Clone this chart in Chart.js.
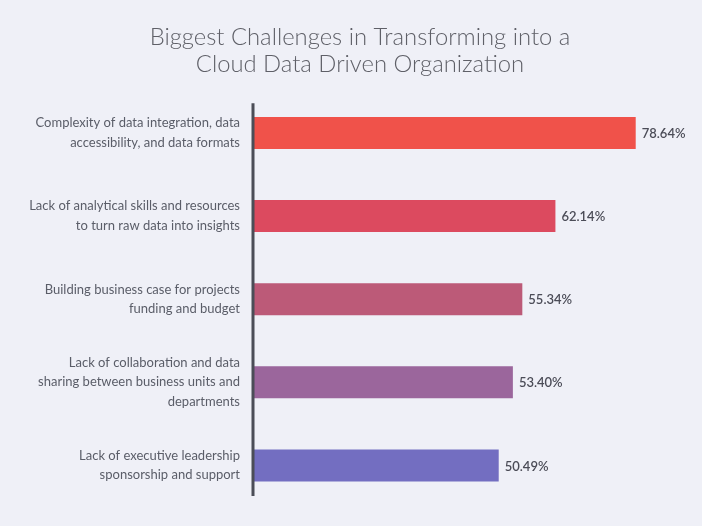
<!DOCTYPE html>
<html>
<head>
<meta charset="utf-8">
<script src="https://cdn.jsdelivr.net/npm/chart.js@4.4.0/dist/chart.umd.min.js"></script>
<style>
  html, body { margin: 0; padding: 0; background: #eff0f7; }
  #wrap { width: 702px; height: 526px; }
</style>
</head>
<body>
<div id="wrap"><canvas id="chart"></canvas></div>
<script>
'use strict';

// data
var categories = [
  ['Complexity of data integration, data', 'accessibility, and data formats'],
  ['Lack of analytical skills and resources', 'to turn raw data into insights'],
  ['Building business case for projects', 'funding and budget'],
  ['Lack of collaboration and data', 'sharing between business units and', 'departments'],
  ['Lack of executive leadership', 'sponsorship and support']
];
var values = [78.64, 62.14, 55.34, 53.40, 50.49];
var barColors = ['#f0524a', '#dc4a5f', '#bc5a78', '#9b669c', '#736ec1'];
var titleLines = ['Biggest Challenges in Transforming into a', 'Cloud Data Driven Organization'];

// axis line on the left, a bit shorter than the plot area
var axisLine = {
  id: 'axisLine',
  afterDatasetsDraw: function (chart) {
    var c = chart.ctx, a = chart.chartArea;
    c.save();
    c.strokeStyle = '#4b4d57';
    c.lineWidth = 3;
    c.beginPath();
    c.moveTo(a.left, a.top + 12);
    c.lineTo(a.left, a.bottom - 11);
    c.stroke();
    c.restore();
  }
};

// percentage after each bar
var valueLabels = {
  id: 'valueLabels',
  afterDatasetsDraw: function (chart) {
    var c = chart.ctx;
    var meta = chart.getDatasetMeta(0);
    c.save();
    c.font = '600 13px Lato';
    c.fillStyle = '#4b4c57';
    c.textAlign = 'left';
    c.textBaseline = 'middle';
    meta.data.forEach(function (bar, i) {
      c.fillText(values[i].toFixed(2) + '%', bar.x + 6, bar.y + 1);
    });
    c.restore();
  }
};

var ctx = document.getElementById('chart').getContext('2d');
var chart = new Chart(ctx, {
  type: 'bar',
  data: {
    labels: categories,
    datasets: [{
      data: values,
      backgroundColor: barColors,
      borderWidth: 0,
      barPercentage: 0.385,
      categoryPercentage: 1
    }]
  },
  options: {
    indexAxis: 'y',
    responsive: true,
    maintainAspectRatio: false,
    animation: false,
    layout: { padding: { left: 29, right: 11, top: 0, bottom: 19 } },
    plugins: {
      legend: { display: false },
      tooltip: { enabled: false },
      title: {
        display: true,
        text: titleLines,
        color: '#5f6068',
        font: { family: 'Lato', size: 23.8, weight: '300', lineHeight: 1.12 },
        padding: { top: 24, bottom: 14 }
      }
    },
    scales: {
      x: {
        display: false,
        min: 0,
        max: 90
      },
      y: {
        afterFit: function (scale) {
          scale.width = 224;
          scale.paddingTop = 0;
          scale.paddingBottom = 0;
        },
        grid: { display: false, drawTicks: false },
        border: { display: false },
        ticks: {
          color: '#5a5d68',
          padding: 13,
          font: { family: 'Lato', size: 13, lineHeight: 1.5 }
        }
      }
    }
  },
  plugins: [axisLine, valueLabels]
});
</script>
</body>
</html>
